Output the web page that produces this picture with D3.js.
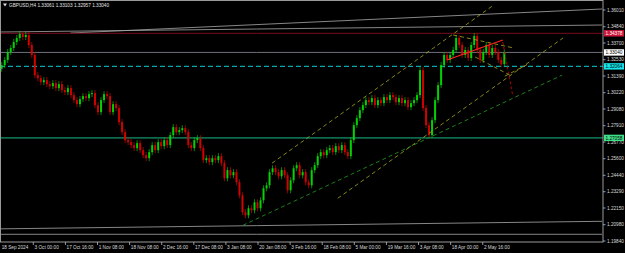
<!DOCTYPE html>
<html>
<head>
<meta charset="utf-8">
<script src="https://cdn.jsdelivr.net/npm/d3@7/dist/d3.min.js"></script>
<style>
  html, body { margin: 0; padding: 0; background: #000; }
  svg { display: block; }
  text { font-family: "Liberation Sans", Arial, sans-serif; }
</style>
</head>
<body>
<div id="chart"></div>
<script>
/* ── Data ─────────────────────────────────────────────────────────────── */
// one candle per trading day, closes (GBPUSD)
const firstOpen = 1.3190;
const closes = [
  1.3215, 1.3251, 1.3307, 1.3335, 1.3377, 1.3405, 1.3433, 1.3412, 1.3426, 1.3356,
  1.3286, 1.3145, 1.3124, 1.3096, 1.3110, 1.3082, 1.3068, 1.3089, 1.3054, 1.3082,
  1.3040, 1.3026, 1.3054, 1.3005, 1.2970, 1.2942, 1.2977, 1.2998, 1.2984, 1.3012,
  1.3019, 1.2935, 1.2886, 1.2970, 1.3012, 1.2998, 1.2886, 1.2942, 1.2914, 1.2816,
  1.2746, 1.2690, 1.2676, 1.2655, 1.2634, 1.2669, 1.2620, 1.2585, 1.2564, 1.2606,
  1.2655, 1.2620, 1.2676, 1.2648, 1.2690, 1.2655, 1.2725, 1.2781, 1.2746, 1.2760,
  1.2774, 1.2746, 1.2655, 1.2634, 1.2690, 1.2704, 1.2634, 1.2550, 1.2564, 1.2536,
  1.2564, 1.2550, 1.2578, 1.2529, 1.2423, 1.2480, 1.2444, 1.2466, 1.2395, 1.2304,
  1.2185, 1.2164, 1.2213, 1.2199, 1.2255, 1.2213, 1.2269, 1.2353, 1.2374, 1.2466,
  1.2493, 1.2466, 1.2437, 1.2480, 1.2444, 1.2339, 1.2409, 1.2493, 1.2515, 1.2444,
  1.2466, 1.2395, 1.2374, 1.2480, 1.2515, 1.2578, 1.2606, 1.2585, 1.2620, 1.2634,
  1.2606, 1.2648, 1.2620, 1.2655, 1.2606, 1.2578, 1.2690, 1.2795, 1.2844, 1.2900,
  1.2935, 1.2970, 1.2956, 1.2984, 1.2935, 1.2970, 1.2949, 1.2991, 1.2970, 1.3005,
  1.2991, 1.2956, 1.2984, 1.2949, 1.2970, 1.2921, 1.2949, 1.2970, 1.3005, 1.3180,
  1.2914, 1.2795, 1.2725, 1.2830, 1.2970, 1.3075, 1.3215, 1.3286, 1.3251, 1.3286,
  1.3321, 1.3405, 1.3356, 1.3286, 1.3321, 1.3265, 1.3356, 1.3419, 1.3321, 1.3251,
  1.3307, 1.3356, 1.3286, 1.3335, 1.3307, 1.3251, 1.3222, 1.3304
];

const title = 'GBPUSD,H4  1.33061 1.33103 1.32957 1.33040';

// price axis ticks
const priceTicks = [1.36010, 1.34840, 1.33700, 1.32530, 1.31390, 1.30220, 1.29080,
  1.27910, 1.26770, 1.25600, 1.24440, 1.23290, 1.22150, 1.20980, 1.19840];

// time axis ticks, in H4 bars from 18 Sep 2024 00:00
const timeTickBars = [0, 66, 130, 194, 258, 322, 386, 450, 514, 578, 642, 706, 770, 834, 898, 962];
const timeTickLabels = ['18 Sep 2024', '3 Oct 00:00', '17 Oct 16:00', '1 Nov 08:00', '18 Nov 08:00',
  '2 Dec 16:00', '17 Dec 08:00', '3 Jan 08:00', '20 Jan 08:00', '3 Feb 16:00', '18 Feb 08:00',
  '5 Mar 00:00', '19 Mar 16:00', '3 Apr 08:00', '18 Apr 00:00', '2 May 16:00'];

// horizontal levels
const levelPrices = [1.34378, 1.33040, 1.32064, 1.27058];
const levelKinds  = ['red', 'bid', 'cyan', 'green'];

// trend lines: [bar1, price1, bar2, price2]
const grayLines = [
  [0, 1.3447, 1200, 1.3496],
  [140, 1.3440, 1200, 1.3608],
  [0, 1.2069, 1200, 1.2122],
  [0, 1.2031, 1200, 1.2031]
];
const oliveLines = [
  [542, 1.2529, 984, 1.3636],
  [673, 1.2283, 1122, 1.3405],
  [903, 1.3426, 1024, 1.3335],
  [947, 1.3272, 1020, 1.3138],
  [1006, 1.3138, 1056, 1.3229]
];
const greenDash = [[484, 1.2094, 1120, 1.3145]];
const redSolid  = [[891, 1.3251, 1002, 1.3391]];
const redDash   = [[1002, 1.3377, 1022, 1.2998]];

/* ── Layout ───────────────────────────────────────────────────────────── */
const W = 625, H = 253;
const plotRight = 603, plotBottom = 242;
const FS = 4.7;

const svg = d3.select('#chart').append('svg')
  .attr('width', W).attr('height', H)
  .style('background', '#000');

const x = d3.scaleLinear().domain([0, 1200]).range([0.2, 0.2 + 1200 * 0.5016]);
const y = d3.scaleLinear().domain([1.19840, 1.36010]).range([241, 10]);

const plot = svg.append('g');
plot.append('clipPath').attr('id', 'clip')
  .append('rect').attr('x', 1).attr('y', 1).attr('width', plotRight - 1).attr('height', plotBottom - 1);
const g = plot.append('g').attr('clip-path', 'url(#clip)');

/* ── Levels & lines ───────────────────────────────────────────────────── */
function drawLines(list, color, width, dash) {
  g.selectAll(null).data(list).join('line')
    .attr('x1', d => x(d[0])).attr('y1', d => y(d[1]))
    .attr('x2', d => x(d[2])).attr('y2', d => y(d[3]))
    .attr('stroke', color).attr('stroke-width', width)
    .attr('stroke-dasharray', dash || null);
}

drawLines(grayLines, '#a8a8a8', 0.8);

const levelStyle = {
  red:   { stroke: '#7a0d1c', width: 1,   dash: null },
  bid:   { stroke: '#7c7c8c', width: 0.9, dash: null },
  cyan:  { stroke: '#0aa6ae', width: 1.1, dash: '5,3' },
  green: { stroke: '#0e6a4c', width: 1.8, dash: null }
};
g.selectAll('.level').data(levelPrices).join('line')
  .attr('class', 'level')
  .attr('x1', 0).attr('x2', plotRight)
  .attr('y1', d => y(d)).attr('y2', d => y(d))
  .attr('stroke', (d, i) => levelStyle[levelKinds[i]].stroke)
  .attr('stroke-width', (d, i) => levelStyle[levelKinds[i]].width)
  .attr('stroke-dasharray', (d, i) => levelStyle[levelKinds[i]].dash);

/* ── Candles ──────────────────────────────────────────────────────────── */
const candles = closes.map((c, i) => ({ i, o: i ? closes[i - 1] : firstOpen, c }));
const cx = d => x(6 * d.i + 3);
const up = d => d.c >= d.o;

g.selectAll('.wick').data(candles).join('line')
  .attr('x1', cx).attr('x2', cx)
  .attr('y1', d => y(Math.max(d.o, d.c)) - 3)
  .attr('y2', d => y(Math.min(d.o, d.c)) + 3)
  .attr('stroke', d => up(d) ? '#00c800' : '#d80000')
  .attr('stroke-width', 0.7);

g.selectAll('.body').data(candles).join('rect')
  .attr('x', d => cx(d) - 1)
  .attr('width', 2)
  .attr('y', d => y(Math.max(d.o, d.c)))
  .attr('height', d => Math.max(1, Math.abs(y(d.o) - y(d.c))))
  .attr('fill', d => up(d) ? '#00e000' : '#e00000')
  .attr('opacity', 0.9);

drawLines(greenDash, '#1e8c1e', 0.9, '4,3');
drawLines(oliveLines, '#a8a820', 0.8, '4,3');
drawLines(redSolid, '#ff2020', 1.2);
drawLines(redDash, '#c00000', 0.9, '3,2');

/* ── Frame ────────────────────────────────────────────────────────────── */
svg.append('rect')
  .attr('x', 0.5).attr('y', 0.5).attr('width', plotRight - 0.5).attr('height', plotBottom - 0.5)
  .attr('fill', 'none').attr('stroke', '#9a9a9a').attr('stroke-width', 1);

/* ── Price axis ───────────────────────────────────────────────────────── */
const yAxis = svg.append('g');
yAxis.selectAll('line').data(priceTicks).join('line')
  .attr('x1', plotRight).attr('x2', plotRight + 2.5)
  .attr('y1', d => y(d)).attr('y2', d => y(d))
  .attr('stroke', '#bbb').attr('stroke-width', 0.8);
yAxis.selectAll('text').data(priceTicks).join('text')
  .attr('x', plotRight + 4).attr('y', d => y(d))
  .attr('dy', '0.35em')
  .attr('font-size', FS)
  .attr('fill', '#d8d8d8')
  .text(d => d.toFixed(5));

const tagStyle = {
  red:   { bg: '#d0143a', fg: '#fff' },
  bid:   { bg: '#ffffff', fg: '#000' },
  cyan:  { bg: '#12e6ee', fg: '#000' },
  green: { bg: '#40e08a', fg: '#000' }
};
const tags = svg.append('g');
tags.selectAll('rect').data(levelPrices).join('rect')
  .attr('x', plotRight + 1).attr('width', 20)
  .attr('y', d => y(d) - 3.2).attr('height', 6.4)
  .attr('fill', (d, i) => tagStyle[levelKinds[i]].bg);
tags.selectAll('text').data(levelPrices).join('text')
  .attr('x', plotRight + 2.5).attr('y', d => y(d))
  .attr('dy', '0.35em')
  .attr('font-size', FS)
  .attr('fill', (d, i) => tagStyle[levelKinds[i]].fg)
  .text(d => d.toFixed(5));

/* ── Time axis ────────────────────────────────────────────────────────── */
const xAxis = svg.append('g');
xAxis.selectAll('line').data(timeTickBars.slice(1)).join('line')
  .attr('x1', d => x(d)).attr('x2', d => x(d))
  .attr('y1', plotBottom).attr('y2', plotBottom + 3)
  .attr('stroke', '#bbb').attr('stroke-width', 0.8);
xAxis.selectAll('text').data(timeTickBars).join('text')
  .attr('x', (d, i) => x(d) + (i ? 1.2 : 1.5))
  .attr('y', 248.8)
  .attr('font-size', FS)
  .attr('fill', '#d8d8d8')
  .text((d, i) => timeTickLabels[i]);

/* ── Title ────────────────────────────────────────────────────────────── */
svg.append('path').attr('d', 'M3,3.5 L7,3.5 L5,6.5 Z').attr('fill', '#ddd');
svg.append('text')
  .attr('x', 9).attr('y', 6.8)
  .attr('font-size', FS)
  .attr('fill', '#e0e0e0')
  .text(title);
</script>
</body>
</html>
